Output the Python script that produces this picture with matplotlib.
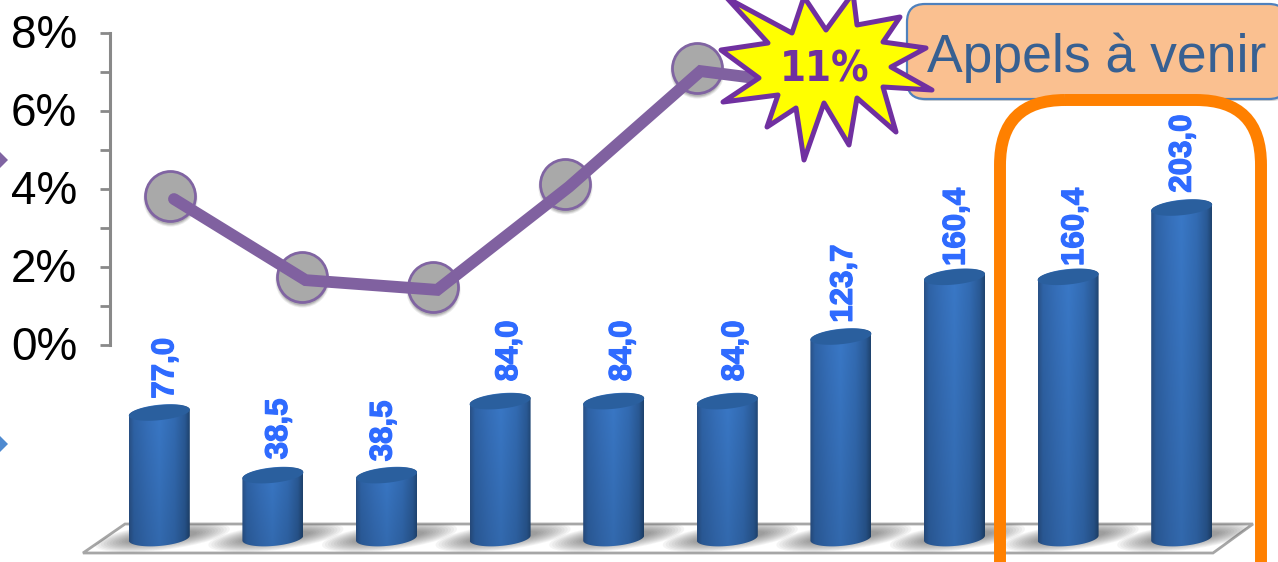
import numpy as np
import matplotlib
matplotlib.use('Agg')
import matplotlib.pyplot as plt
import matplotlib.patheffects as pe
from matplotlib.patches import PathPatch, Polygon, FancyBboxPatch, Ellipse
from matplotlib.path import Path
from matplotlib.transforms import offset_copy, ScaledTranslation

# Bar values and their printed labels
bar_values = [77.0, 38.5, 38.5, 84.0, 84.0, 84.0, 123.7, 160.4, 160.4, 203.0]
bar_labels = ['77,0', '38,5', '38,5', '84,0', '84,0', '84,0', '123,7', '160,4', '160,4', '203,0']

# Percent line (the last point sits behind the star)
line_values = [3.82, 1.74, 1.49, 4.13, 7.10, 6.67]
y_tick_labels = ['0%', '2%', '4%', '6%', '8%']

callout_text = '11%'
box_text = 'Appels à venir'

# Small nudges of the data labels, in pixels
label_dx = [6, 6, -3, 9, 9, 8, 3, 2, 7, 1]
label_gap = [14, 16, 14, 20, 20, 20, 14, 11, 11, 15]

W, H = 1278, 562
plt.rcParams['font.family'] = ['Liberation Sans', 'DejaVu Sans']
fig = plt.figure(figsize=(W / 100, H / 100), dpi=100)


def axes_px(left, top, right, bottom, z):
    return fig.add_axes([left / W, 1 - bottom / H, (right - left) / W, (bottom - top) / H], zorder=z)


# Floor and legend stubs, in picture pixels
back = axes_px(0, 0, W, H, 0)
back.set_xlim(0, W)
back.set_ylim(H, 0)
back.axis('off')
floor = Polygon([(83, 553), (125, 524), (1253, 524), (1213, 553)], closed=True,
                facecolor='white', edgecolor='#a6a6a6', linewidth=2)
back.add_patch(floor)
back.add_patch(Polygon([(0, 152), (8, 160), (0, 168)], closed=True, facecolor='#8064a2', edgecolor='none'))
back.add_patch(Polygon([(0, 436), (8, 444), (0, 452)], closed=True, facecolor='#4f8ad0', edgecolor='none'))

# Bars
ax = axes_px(102.5, 131.25, 1238.5, 557.5, 1)
ax.axis('off')
px_x = 1 / 113.6
px_y = 1 / 1.627
half_w = 30.5 * px_x

t = np.linspace(0, np.pi, 60)
u = np.linspace(0, 1, 128)
stops = [0.0, 0.08, 0.3, 0.5, 0.75, 0.92, 1.0]
r = np.interp(u, stops, [0x2a, 0x2f, 0x36, 0x3a, 0x33, 0x2a, 0x1f])
g = np.interp(u, stops, [0x52, 0x64, 0x70, 0x79, 0x6c, 0x5a, 0x44])
b = np.interp(u, stops, [0x88, 0xa8, 0xbb, 0xc8, 0xb4, 0x96, 0x70])
gradient = np.dstack([r, g, b]) / 255
# a bit darker towards the floor
fade = np.linspace(1.0, 0.86, 64)[:, np.newaxis, np.newaxis]
gradient = gradient * fade

for i, v in enumerate(bar_values):
    # soft shadow on the floor
    sx = 102.5 + (i + 0.5) * 113.6
    for k in range(12):
        e = Ellipse((sx + 3, 537), 136 - k * 6, 26 - k * 1.6, angle=-7,
                    facecolor='#404040', edgecolor='none', alpha=0.055)
        back.add_patch(e)
        e.set_clip_path(floor)

    cx = i
    ex = half_w * np.cos(t)
    # bottom edge from left to right, then top edge back
    bot_x = cx - ex
    bot_y = (-8 * np.sin(t) - 2.5 * np.cos(t)) * px_y
    top_x = cx + ex
    top_y = v + (8 * np.sin(t) + 3 * np.cos(t)) * px_y
    body = np.column_stack([np.r_[bot_x, top_x], np.r_[bot_y, top_y]])
    patch = PathPatch(Path(np.vstack([body, body[0]]), closed=True), facecolor='none', edgecolor='none')
    ax.add_patch(patch)
    im = ax.imshow(gradient, extent=[cx - half_w, cx + half_w, -12, v + 10], aspect='auto', zorder=2)
    im.set_clip_path(patch)
    # top face
    tt = np.linspace(0, 2 * np.pi, 80)
    face = np.column_stack([cx + half_w * np.cos(tt), v + (7.5 * np.sin(tt) + 3 * np.cos(tt)) * px_y])
    ax.add_patch(Polygon(face, closed=True, facecolor='#2a5f9e', edgecolor='none', zorder=3))
    ax.annotate(bar_labels[i], (cx, v), xytext=(label_dx[i] * 0.72, label_gap[i] * 0.72),
                textcoords='offset points', rotation=90, ha='center', va='bottom',
                color='#2f6bff', fontsize=22.5, fontweight='bold', annotation_clip=False, zorder=4,
                path_effects=[pe.withStroke(linewidth=0.9, foreground='#2f6bff')])
ax.set_xlim(-0.5, 9.5)
ax.set_ylim(-12, 250)

# Percent line
lx = axes_px(110, 33, 894, 345, 2)
lx.patch.set_alpha(0)
lx.set_xlim(-60 / 131.7, 5.5)
lx.set_ylim(0, 8)
for s in ['top', 'right', 'bottom']:
    lx.spines[s].set_visible(False)
lx.spines['left'].set_color('#898989')
lx.spines['left'].set_linewidth(2.2)
lx.set_xticks([])
lx.set_yticks([0, 2, 4, 6, 8])
lx.set_yticklabels(y_tick_labels)
lx.set_yticks([1, 3, 5, 7], minor=True)
lx.tick_params(axis='y', which='both', length=7.5, width=2, color='#898989', direction='out')
lx.tick_params(axis='y', which='major', labelsize=33, pad=16, labelcolor='black')
for lab in lx.get_yticklabels():
    lab.set_transform(lab.get_transform() + ScaledTranslation(0, 2 / 100, fig.dpi_scale_trans))

xs = np.arange(len(line_values))
shadow_tr = offset_copy(lx.transData, fig, x=0, y=-3, units='dots')
for size, alpha in [(39, 0.10), (37.5, 0.14), (36, 0.2)]:
    lx.plot(xs[:5], line_values[:5], linestyle='none', marker='o', markersize=size, markeredgewidth=0,
            color='#404040', alpha=alpha, transform=shadow_tr, clip_on=False, zorder=2)
lx.plot(xs[:5], line_values[:5], linestyle='none', marker='o', markersize=36, markerfacecolor='#a9a9a9',
        markeredgecolor='#8064a2', markeredgewidth=2, clip_on=False, zorder=3)
line_tr = offset_copy(lx.transData, fig, x=4, y=-3, units='dots')
lx.plot(xs, line_values, color='#8061a0', linewidth=8.5, solid_joinstyle='miter', solid_capstyle='round',
        transform=line_tr, clip_on=False, zorder=4)

# Callouts on top, in picture pixels
front = axes_px(0, 0, W, H, 3)
front.patch.set_alpha(0)
front.set_xlim(0, W)
front.set_ylim(H, 0)
front.axis('off')

front.add_patch(FancyBboxPatch((909, 6), 380, 95, boxstyle='round,pad=0,rounding_size=18',
                               facecolor='#7f7f7f', edgecolor='none', alpha=0.35, zorder=1))
front.add_patch(FancyBboxPatch((907, 4), 380, 95, boxstyle='round,pad=0,rounding_size=18',
                               facecolor='#fac090', edgecolor='#4f81bd', linewidth=1.6, zorder=2))
front.text(927, 58, box_text, color='#376092', fontsize=38.5, ha='left', va='center', zorder=3)

front.add_patch(FancyBboxPatch((1000, 100), 261, 560, boxstyle='round,pad=0,rounding_size=65',
                               facecolor='none', edgecolor='#ff8000', linewidth=8.6, zorder=4))

star = [(727, -2), (792, 33), (804, -3), (826, 30), (853, -7), (857, 25), (900, 17), (883, 42),
        (926, 48), (891, 67), (932, 90), (883, 87), (896, 132), (857, 98), (849, 145), (824, 103),
        (804, 160), (796, 108), (767, 127), (778, 95), (723, 102), (759, 78), (721, 50), (768, 43)]
front.add_patch(Polygon(star, closed=True, facecolor='#ffff00', edgecolor='#7030a0', linewidth=3.6,
                        joinstyle='round', clip_on=False, zorder=5))
front.text(825, 69, callout_text, color='#7030a0', fontsize=30, fontweight='bold',
           family='DejaVu Sans', stretch='condensed', ha='center', va='center', zorder=6)

fig.savefig('out.png', dpi=100)
